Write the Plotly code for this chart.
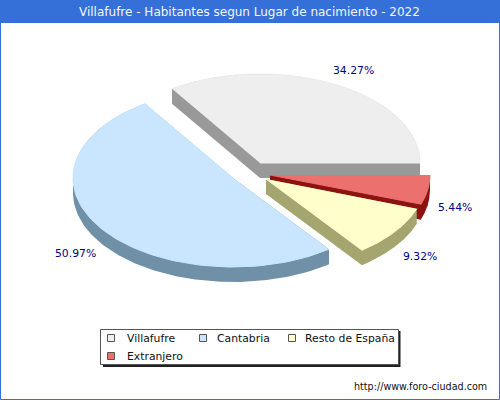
# File: plot.py
# Aim: Villafufre pie chart, drawn as an exploded 3D pie

import numpy as np
import plotly.graph_objs as go

# --------------------------------------------------------------------------------
# Data
categories = ['Villafufre', 'Cantabria', 'Resto de España', 'Extranjero']
shares = [34.27, 50.97, 9.32, 5.44]
title = 'Villafufre - Habitantes segun Lugar de nacimiento - 2022'
source = 'http://www.foro-ciudad.com'

# --------------------------------------------------------------------------------
# Style, in page pixels
top_colors = ['#EEEEEE', '#CAE6FF', '#FFFFCC', '#EC706E']
side_colors = ['#999999', '#7090A8', '#A5A570', '#8B1410']
apexes = [(260, 163), (233, 178), (266, 179), (270, 175)]
draw_order = [0, 3, 2, 1]
label_places = [(353.5, 70), (75.5, 253), (419.5, 256), (454.5, 207)]
swatch_places = [(111, 338), (203, 338), (292, 338), (111, 356)]
legend_text_places = [(125, 338), (215, 338), (303, 338), (125, 356)]
radius_x, radius_y, depth = 160, 89, 15
blue = '#3470D8'
font_name = 'DejaVu Sans'


def arc(apex, start, stop):
    # Rim of one slice, on the flattened ellipse
    angles = np.radians(np.linspace(start, stop, 90))
    xs = apex[0] + radius_x * np.cos(angles)
    ys = apex[1] - radius_y * np.sin(angles)
    return list(xs), list(ys)


def side_outline(apex, start, stop):
    # Convex hull of a slice part and the same part moved down by the depth
    xs, ys = arc(apex, start, stop)
    xs, ys = [apex[0], *xs], [apex[1], *ys]
    points = sorted(set(zip(xs, ys)) | set((x, y + depth) for x, y in zip(xs, ys)))

    def half(pts):
        hull = []
        for p in pts:
            while len(hull) > 1:
                a, b = hull[-2], hull[-1]
                if (b[0] - a[0]) * (p[1] - a[1]) - (b[1] - a[1]) * (p[0] - a[0]) > 0:
                    break
                hull.pop()
            hull.append(p)
        return hull[:-1]

    hull = half(points) + half(points[::-1])
    return [p[0] for p in hull], [p[1] for p in hull]


def polygon(xs, ys, color, width):
    return go.Scatter(x=xs, y=ys, mode='lines', fill='toself', fillcolor=color,
                      line=dict(color=color, width=width), hoverinfo='skip',
                      showlegend=False)


# --------------------------------------------------------------------------------
# Slices
stops = np.cumsum(shares) / np.sum(shares) * 360
starts = [0, *stops[:-1]]

traces = []
for j in draw_order:
    # Two halves, so a slice wider than 180 degrees keeps its notch at the apex
    middle = (starts[j] + stops[j]) / 2
    traces.append(polygon(*side_outline(apexes[j], starts[j], middle), side_colors[j], 0))
    traces.append(polygon(*side_outline(apexes[j], middle, stops[j]), side_colors[j], 0))
    rim_x, rim_y = arc(apexes[j], starts[j], stops[j])
    traces.append(polygon([apexes[j][0], *rim_x], [apexes[j][1], *rim_y], top_colors[j], 1))

# Legend swatches
traces.append(go.Scatter(
    x=[p[0] for p in swatch_places],
    y=[p[1] for p in swatch_places],
    mode='markers',
    marker=dict(symbol='square', size=7, color=top_colors,
                line=dict(color='#555555', width=1)),
    hoverinfo='skip',
    showlegend=False,
))

# --------------------------------------------------------------------------------
# Texts
annotations = [dict(x=249, y=12, text=title, showarrow=False,
                    font=dict(family=font_name, size=12, color='#F4F6FF'))]
for value, place in zip(shares, label_places):
    annotations.append(dict(x=place[0], y=place[1], text=f'{value:.2f}%', showarrow=False,
                            font=dict(family=font_name, size=10.8, color='#000080')))
for name, place in zip(categories, legend_text_places):
    annotations.append(dict(x=place[0], y=place[1], text=name, showarrow=False,
                            xanchor='left',
                            font=dict(family=font_name, size=10.8, color='#111111')))
annotations.append(dict(x=489, y=386, text=source, showarrow=False, xanchor='right',
                        font=dict(family=font_name, size=9.6, color='#111111')))

# --------------------------------------------------------------------------------
# Frame, title bar and legend box
shapes = [
    dict(type='rect', x0=0.5, y0=0.5, x1=499.5, y1=399.5, line=dict(color=blue, width=1),
         layer='below'),
    dict(type='rect', x0=0, y0=0, x1=500, y1=23, fillcolor=blue, line_width=0, layer='below'),
    dict(type='rect', x0=103, y0=331, x1=400.5, y1=367, fillcolor='#222222', line_width=0,
         layer='below'),
    dict(type='rect', x0=100.5, y0=329.5, x1=398.5, y1=364.5, fillcolor='white',
         line=dict(color='#555555', width=1), layer='below'),
]

layout = go.Layout(
    width=500,
    height=400,
    margin=dict(l=0, r=0, t=0, b=0),
    paper_bgcolor='white',
    plot_bgcolor='white',
    xaxis=dict(range=[0, 500], visible=False, fixedrange=True),
    yaxis=dict(range=[400, 0], visible=False, fixedrange=True),
    shapes=shapes,
    annotations=annotations,
    showlegend=False,
)

fig = go.Figure(data=traces, layout=layout)
fig.write_html('out.html', config=dict(displayModeBar=False),
               post_script="document.body.style.margin = '0';")
